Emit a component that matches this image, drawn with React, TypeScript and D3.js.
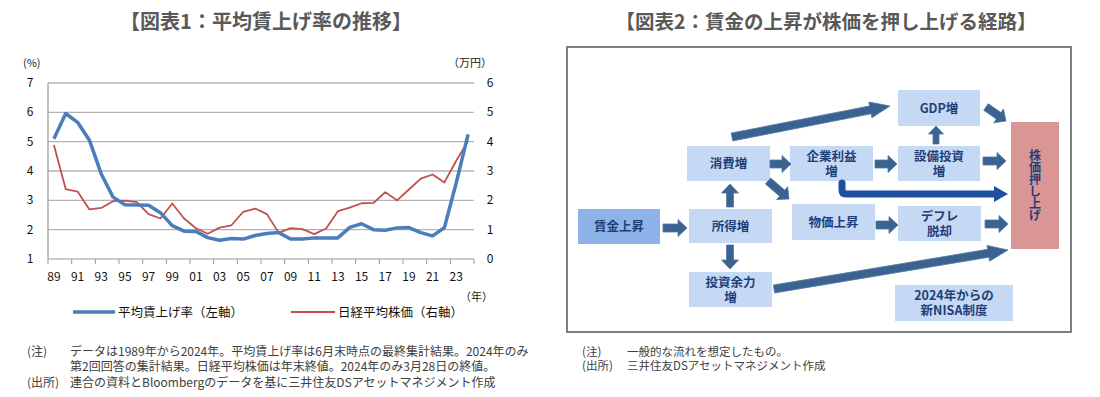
import React from "react";
import * as d3 from "d3";

// chart 1 data
const years = d3.range(1989, 2025);
const wageRise = [
  5.1, 5.96, 5.66, 5.05, 3.9, 3.11, 2.85, 2.84, 2.83, 2.58, 2.14, 1.95, 1.94, 1.73, 1.64, 1.7, 1.68, 1.8,
  1.87, 1.9, 1.68, 1.68, 1.72, 1.72, 1.72, 2.08, 2.2, 2.0, 1.98, 2.06, 2.07, 1.9, 1.79, 2.07, 3.6, 5.25,
];
const nikkei = [
  3.89, 2.38, 2.3, 1.69, 1.74, 1.97, 1.99, 1.94, 1.53, 1.38, 1.89, 1.38, 1.05, 0.86, 1.07, 1.15, 1.61, 1.72,
  1.53, 0.89, 1.05, 1.02, 0.85, 1.04, 1.63, 1.75, 1.9, 1.91, 2.28, 2.0, 2.37, 2.74, 2.88, 2.61, 3.35, 4.02,
];
const leftTicks = [1, 2, 3, 4, 5, 6, 7];
const rightTicks = [0, 1, 2, 3, 4, 5, 6];
const seriesNames = ["平均賃上げ率（左軸）", "日経平均株価（右軸）"];

const FONT = "'Noto Sans CJK JP', 'Noto Sans', sans-serif";
const NAVY = "#1f3f7a";
const ARROW = "#3b6390";

// chart 2 nodes
const nodeLabels = {
  wage: ["賃金上昇"],
  income: ["所得増"],
  consume: ["消費増"],
  invest: ["投資余力", "増"],
  profit: ["企業利益", "増"],
  capex: ["設備投資", "増"],
  gdp: ["GDP増"],
  price: ["物価上昇"],
  deflation: ["デフレ", "脱却"],
  nisa: ["2024年からの", "新NISA制度"],
};
const stockLabel = "株価押し上げ";

const nodeBoxes: Record<string, [number, number, number, number]> = {
  wage: [578, 209, 82, 35],
  income: [689, 209, 83, 34],
  consume: [687, 146, 83, 35],
  invest: [689, 272, 83, 35],
  profit: [790, 146, 83, 35],
  capex: [898, 146, 82, 35],
  gdp: [898, 90, 82, 36],
  price: [792, 204, 83, 36],
  deflation: [898, 206, 83, 35],
  nisa: [895, 285, 118, 36],
};

// [x1, y1, x2, y2, bodyW, headW, headL]
const arrows: number[][] = [
  [663, 228, 687, 228, 8, 17, 9],
  [730, 207, 730, 184, 7, 17, 9],
  [730, 245, 730, 269, 7, 17, 9],
  [768, 181, 789, 199, 8, 17, 9],
  [770, 164, 791, 164, 8, 17, 9],
  [875, 164, 897, 164, 8, 17, 9],
  [936, 144, 936, 126, 6, 15, 8],
  [983, 161, 1006, 161, 8, 17, 9],
  [986, 107, 1006, 121, 8, 17, 9],
  [876, 225, 898, 225, 8, 17, 9],
  [985, 224, 1008, 224, 8, 17, 9],
  [732, 137, 890, 106, 8, 16, 20],
  [774, 289, 1008, 250, 8, 16, 20],
];

function arrowPath(a: number[]) {
  const [x1, y1, x2, y2, bw, hw, hl] = a;
  const dx = x2 - x1, dy = y2 - y1;
  const L = Math.hypot(dx, dy);
  const ux = dx / L, uy = dy / L;
  const px = -uy, py = ux;
  const bx = x2 - ux * hl, by = y2 - uy * hl;
  const pts = [
    [x1 + (px * bw) / 2, y1 + (py * bw) / 2],
    [bx + (px * bw) / 2, by + (py * bw) / 2],
    [bx + (px * hw) / 2, by + (py * hw) / 2],
    [x2, y2],
    [bx - (px * hw) / 2, by - (py * hw) / 2],
    [bx - (px * bw) / 2, by - (py * bw) / 2],
    [x1 - (px * bw) / 2, y1 - (py * bw) / 2],
  ];
  return "M" + pts.map((p) => p.join(",")).join("L") + "Z";
}

const LeftChart = () => {
  const x = d3.scaleBand<number>().domain(years).range([48, 474]);
  const yL = d3.scaleLinear().domain([1, 7]).range([259, 83]);
  const yR = d3.scaleLinear().domain([0, 6]).range([259, 83]);
  const cx = (yr: number) => (x(yr) ?? 0) + x.bandwidth() / 2;

  const wageLine = d3
    .line<number>()
    .x((_, i) => cx(years[i]))
    .y((d) => yL(d))(wageRise);
  const nikkeiLine = d3
    .line<number>()
    .x((_, i) => cx(years[i]))
    .y((d) => yR(d))(nikkei);

  const tickYears = years.filter((_, i) => i % 2 === 0);

  return (
    <g fontFamily={FONT}>
      <text x={266} y={29} textAnchor="middle" fontSize={20} fontWeight="bold" fill="#595959">
        【図表1：平均賃上げ率の推移】
      </text>
      <text x={23} y={67} fontSize={11} fill="#222">(%)</text>
      <text x={448} y={67} fontSize={11} fill="#222">（万円）</text>
      {leftTicks.map((t) => (
        <g key={t}>
          {t > 1 && <line x1={48} x2={474} y1={yL(t)} y2={yL(t)} stroke="#b3b3b3" strokeWidth={1.3} />}
          <text x={30} y={yL(t) + 4} textAnchor="middle" fontSize={12} fill="#111">{t}</text>
        </g>
      ))}
      {rightTicks.map((t) => (
        <text key={t} x={490} y={yR(t) + 4} textAnchor="middle" fontSize={12} fill="#111">{t}</text>
      ))}
      <line x1={48} x2={48} y1={83} y2={259} stroke="#999" strokeWidth={1.2} />
      <line x1={48} x2={474} y1={259} y2={259} stroke="#999" strokeWidth={1.2} />
      {tickYears.map((yr) => (
        <g key={yr}>
          <line x1={x(yr)} x2={x(yr)} y1={259} y2={264} stroke="#999" />
          <text x={cx(yr)} y={281} textAnchor="middle" fontSize={12} fill="#111">
            {String(yr).slice(2)}
          </text>
        </g>
      ))}
      <line x1={474} x2={474} y1={259} y2={264} stroke="#999" />
      <path d={nikkeiLine ?? ""} fill="none" stroke="#c0504d" strokeWidth={1.8} strokeLinejoin="round" />
      <path d={wageLine ?? ""} fill="none" stroke="#4a7ebb" strokeWidth={3.5} strokeLinejoin="round" />
      <text x={460} y={301} fontSize={11} fill="#222">（年）</text>
      <line x1={73} x2={115} y1={312} y2={312} stroke="#4a7ebb" strokeWidth={3.5} />
      <text x={118} y={317} fontSize={12.5} fill="#111">{seriesNames[0]}</text>
      <line x1={291} x2={335} y1={312} y2={312} stroke="#c0504d" strokeWidth={1.8} />
      <text x={338} y={317} fontSize={12.5} fill="#111">{seriesNames[1]}</text>
      <g fontSize={12} fill="#404040">
        <text x={27} y={356}>(注)</text>
        <text x={70} y={356}>データは1989年から2024年。平均賃上げ率は6月末時点の最終集計結果。2024年のみ</text>
        <text x={70} y={371}>第2回回答の集計結果。日経平均株価は年末終値。2024年のみ3月28日の終値。</text>
        <text x={27} y={387}>(出所)</text>
        <text x={70} y={387}>連合の資料とBloombergのデータを基に三井住友DSアセットマネジメント作成</text>
      </g>
    </g>
  );
};

const RightChart = () => {
  return (
    <g fontFamily={FONT}>
      <text x={826} y={29} textAnchor="middle" fontSize={19.5} fontWeight="bold" fill="#595959">
        【図表2：賃金の上昇が株価を押し上げる経路】
      </text>
      <rect x={567} y={47} width={504} height={285} fill="#fff" stroke="#7f7f7f" strokeWidth={2} />
      {Object.entries(nodeBoxes).map(([k, [bx, by, bw, bh]]) => {
        const lines = nodeLabels[k as keyof typeof nodeLabels];
        const mid = by + bh / 2;
        const y0 = mid + 4.5 - ((lines.length - 1) / 2) * 15;
        return (
          <g key={k}>
            <rect x={bx} y={by} width={bw} height={bh} fill={k === "wage" ? "#8db3e8" : "#c6d9f4"} />
            <text x={bx + bw / 2} y={y0} textAnchor="middle" fontSize={12.5} fontWeight="bold" fill={NAVY}>
              {lines.map((l, i) => (
                <tspan key={i} x={bx + bw / 2} dy={i === 0 ? 0 : 15}>
                  {l}
                </tspan>
              ))}
            </text>
          </g>
        );
      })}
      <rect x={1011} y={122} width={48} height={127} fill="#d99694" />
      <text
        x={1035}
        y={185}
        textAnchor="middle"
        fontSize={12}
        fontWeight="bold"
        fill={NAVY}
        style={{ writingMode: "vertical-rl" }}
      >
        {stockLabel}
      </text>
      {arrows.map((a, i) => (
        <path key={i} d={arrowPath(a)} fill={ARROW} stroke="#4f78a8" strokeWidth={0.8} />
      ))}
      <path d="M842,183 L842,190 Q842,194 846,194 L996,194" fill="none" stroke="#1f4fa0" strokeWidth={7} strokeLinecap="round" />
      <path d={arrowPath([994, 194, 1008, 194, 0, 16, 14])} fill="#1f4fa0" />
      <g fontSize={11.5} fill="#404040">
        <text x={582} y={356}>(注)</text>
        <text x={627} y={356}>一般的な流れを想定したもの。</text>
        <text x={582} y={370}>(出所)</text>
        <text x={627} y={370}>三井住友DSアセットマネジメント作成</text>
      </g>
    </g>
  );
};

export default function App() {
  return (
    <svg
      width={1100}
      height={397}
      style={{ position: "absolute", left: 0, top: 0, background: "#fff" }}
    >
      <LeftChart />
      <RightChart />
    </svg>
  );
}
